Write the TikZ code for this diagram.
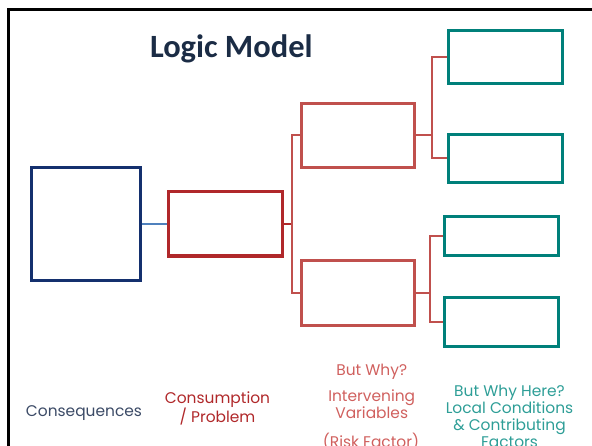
\documentclass[tikz,border=0pt]{standalone}
\usepackage{fontspec}
\setmainfont{Poppins}
\newfontfamily\titlefont{Carlito}
\usetikzlibrary{positioning, calc}
\definecolor{titleblue}{HTML}{1B2C45}
\definecolor{consnavy}{HTML}{14306E}
\definecolor{constext}{HTML}{3B4A66}
\definecolor{linkblue}{HTML}{4F81BD}
\definecolor{causered}{HTML}{B0282A}
\definecolor{whyred}{HTML}{C0504D}
\definecolor{whytext}{HTML}{D0605E}
\definecolor{hereteal}{HTML}{00807A}
\definecolor{heretext}{HTML}{2E9E97}

\begin{document}
\begin{tikzpicture}[x=1bp, y=-1bp,
  box/.style={draw, line width=3bp, inner sep=0pt, fill=white},
  link/.style={line width=2bp},
  lbl/.style={font=\fontsize{15.5}{17}\selectfont, align=center, anchor=base, inner sep=0pt}]
\useasboundingbox (0,0) rectangle (592,446);
\clip (0,0) rectangle (592,446);
% Frame (only the left and top edges are visible)
\draw[line width=3bp] (8,480) |- (640,10);
% Title
\node[anchor=base, font=\titlefont\bfseries\fontsize{32.6}{36}\selectfont, text=titleblue] (title) at (231.3,57.3) {Logic Model};
% Junction points between the columns
\coordinate (j1) at (291.8,224);
\coordinate (j2) at (432,135.3);
\coordinate (j3) at (429.5,293);
% Boxes
\node[box, draw=consnavy, minimum width=108bp, minimum height=112bp] (cons) at (86,224) {};
\node[box, draw=causered, minimum width=114bp, minimum height=64bp] (cause) at (225,224) {};
\foreach \name/\y in {why1/135.3, why2/293} {
  \node[box, draw=whyred, minimum width=113bp, minimum height=64bp] (\name) at (358.3,\y) {};
}
\foreach \name/\x/\y/\w/\h in {here1/505.8/56.7/113.7/53.3, here2/505.8/158.5/113.7/48.4,
                               here3/501/236.2/114/39, here4/501/321.5/114/49} {
  \node[box, draw=hereteal, minimum width=\w bp, minimum height=\h bp] (\name) at (\x,\y) {};
}
% Connectors
\draw[link, linkblue] (cons.east) -- (cause.west);
\draw[link, causered] (cause.east) -- (j1);
\draw[link, whyred] (why1.west) -| (j1) |- (why2.west);
\draw[link, whyred] (why1.east) -- (j2);
\draw[link, whyred] (here1.west) -| (j2) |- (here2.west);
\draw[link, whyred] (why2.east) -- (j3);
\draw[link, whyred] (here3.west) -| (j3) |- (here4.west);
% Column labels (base = baseline of the last line)
\node[lbl, text=constext] (consl) at (84,416.7) {Consequences};
\node[lbl, text=causered] (causel) at (217.5,422.7) {Consumption\\/ Problem};
\node[lbl, text=whytext] (whyl) at (371.7,375) {But Why?};
\node[lbl, text=whytext] (varl) at (371.7,418.3) {Intervening\\Variables};
\node[lbl, text=whytext] (riskl) at (371,447) {(Risk Factor)};
\node[lbl, text=heretext] (herel) at (509.5,447.5) {But Why Here?\\Local Conditions\\\& Contributing\\Factors};
\end{tikzpicture}
\end{document}
